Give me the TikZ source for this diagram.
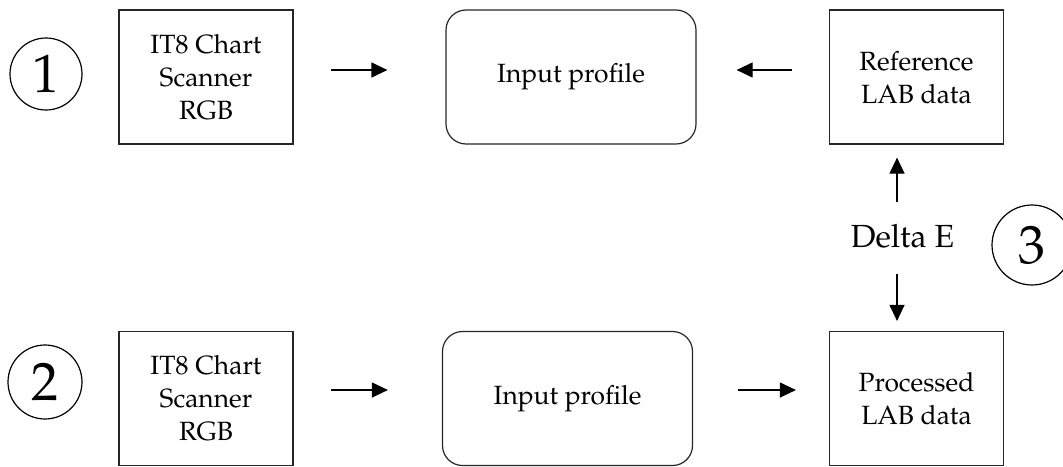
\documentclass[tikz,border=0pt]{standalone}
\usepackage[T1]{fontenc}
\usepackage{mathpazo}
\usetikzlibrary{arrows.meta}

\tikzset{
    box/.style={draw=black!85, line width=0.6pt, minimum width=87pt, minimum height=67pt,
        align=center, inner sep=0pt, font=\fontsize{13.2}{16.5}\selectfont},
    roundbox/.style={box, rounded corners=10pt, minimum width=125pt},
    arr/.style={line width=0.6pt, -{Triangle[length=8pt,width=7.5pt]}},
    numcircle/.style={draw, circle, line width=0.6pt, inner sep=0pt,
        font=\fontsize{27}{27}\selectfont}
}

\begin{document}
\begin{tikzpicture}[x=0.5pt,y=-0.5pt]
    \useasboundingbox (0,0) rectangle (1063,466);

    % first row
    \node[numcircle, minimum size=36pt] (one) at (46,74) {1};
    \node[box] (scan_a) at (206,77) {IT8 Chart\\Scanner\\RGB};
    \node[roundbox] (prof_a) at (571,77) {Input profile};
    \node[box] (ref) at (916.5,77) {Reference\\LAB data};

    % second row
    \node[numcircle, minimum size=37pt] (two) at (45,382) {2};
    \node[box] (scan_b) at (206,398.5) {IT8 Chart\\Scanner\\RGB};
    \node[roundbox] (prof_b) at (567.5,398.5) {Input profile};
    \node[box] (proc) at (916.5,398.5) {Processed\\LAB data};

    % comparison
    \node[anchor=base, inner sep=0pt, font=\fontsize{16}{16}\selectfont] (delta) at (902.5,247) {Delta E};
    \begin{scope}
        \clip (0,0) rectangle (1063,466);
        \node[numcircle, minimum size=40pt] (three) at (1032,245) {3};
    \end{scope}

    % arrows
    \draw[arr] ([xshift=18.5pt,yshift=3.5pt]scan_a.east) -- ([xshift=-29pt,yshift=3.5pt]prof_a.west);
    \draw[arr] ([xshift=-18.5pt,yshift=3.5pt]ref.west) -- ([xshift=20pt,yshift=3.5pt]prof_a.east);
    \draw[arr] ([xshift=18.5pt,yshift=4.25pt]scan_b.east) -- ([xshift=-27pt,yshift=4.25pt]prof_b.west);
    \draw[arr] ([xshift=22.5pt,yshift=4.25pt]prof_b.east) -- ([xshift=-16.5pt,yshift=4.25pt]proc.west);
    \draw[arr] ([xshift=-2.75pt,yshift=10.5pt]delta.north) -- ([xshift=-9.75pt,yshift=-6.5pt]ref.south);
    \draw[arr] ([xshift=-2.75pt,yshift=-13pt]delta.south) -- ([xshift=-9.75pt,yshift=5pt]proc.north);
\end{tikzpicture}
\end{document}
